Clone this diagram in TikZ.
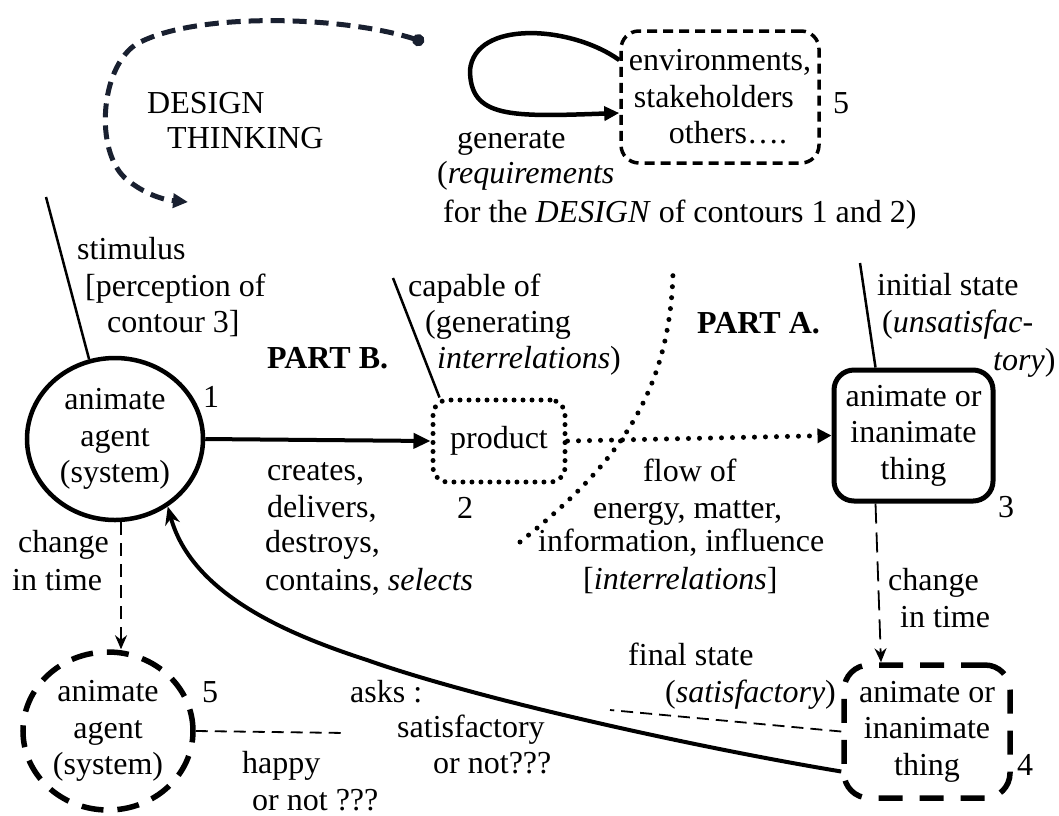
\documentclass[tikz,border=0pt]{standalone}
\usepackage{fontspec}
\setmainfont{Liberation Serif}
\usetikzlibrary{arrows.meta,shapes.geometric}
\definecolor{navy}{RGB}{25,32,48}
\begin{document}
\begin{tikzpicture}[x=1pt,y=-1pt,
  font=\fontsize{32pt}{36.5pt}\selectfont,
  lbl/.style={anchor=base west,inner sep=0pt},
  agent/.style={ellipse,draw,line width=4.5pt,minimum width=176pt,minimum height=162pt,inner sep=0pt,align=center},
  agentd/.style={ellipse,draw,line width=5.5pt,dash pattern=on 22pt off 14pt,minimum width=170pt,minimum height=158pt,inner sep=0pt,align=center},
  thing/.style={rectangle,rounded corners=20pt,draw,line width=5pt,minimum width=159pt,minimum height=131pt,inner sep=0pt,align=center},
  thingd/.style={rectangle,rounded corners=25pt,draw,line width=5.5pt,dash pattern=on 24pt off 17pt,minimum width=166pt,minimum height=133pt,inner sep=0pt,align=center},
  prodbox/.style={rectangle,rounded corners=15pt,draw,line width=5pt,dash pattern=on 0pt off 9pt,line cap=round,minimum width=132pt,minimum height=82pt,inner sep=0pt},
  envbox/.style={rectangle,rounded corners=18pt,draw,line width=3.5pt,dash pattern=on 10pt off 6pt,minimum width=198pt,minimum height=132pt,inner sep=0pt,align=left},
  thickarrow/.style={line width=4pt,-{Triangle[length=17pt,width=15pt]}},
  dotarrow/.style={line width=5pt,dash pattern=on 0pt off 11pt,line cap=round,-{Triangle[length=14pt,width=14pt]}},
  plainline/.style={line width=2.5pt},
  dasharrowL/.style={line width=2.8pt,dash pattern=on 13pt off 8pt,-{Stealth[length=14pt,width=12pt]}},
  dasharrowR/.style={line width=1.8pt,dash pattern=on 20pt off 9pt,-{Stealth[length=14pt,width=12pt]}},
  thindash/.style={line width=1.8pt,dash pattern=on 12pt off 7pt},
  curvearrow/.style={line width=4pt,-{Stealth[length=18pt,width=15pt]}},
  loopline/.style={line width=4.5pt,-{Triangle[length=15pt,width=14pt]}},
  partline/.style={line width=5pt,dash pattern=on 0pt off 11pt,line cap=round},
  designline/.style={navy,line width=5pt,dash pattern=on 14pt off 8pt,{Circle[length=12pt]}-{Triangle[length=15pt,width=14pt]}}
]
\useasboundingbox (0,0) rectangle (1059,815);

% shapes
\node[agent] (a1) at (115,439) {animate\\agent\\(system)};
\node[agentd] (a5) at (108,731) {animate\\agent\\(system)};
\node[prodbox] (prod) at (499,441) {product};
\node[thing] (b3) at (913.5,435.5) {animate or\\inanimate\\thing};
\node[thingd] (b4) at (927,731.5) {animate or\\inanimate\\thing};
\node[envbox] (env) at (720,97) {environments,\\\hspace*{5pt}stakeholders\\\hspace*{40pt}others….};

% free ends
\coordinate (stim) at (46,197);
\coordinate (cap) at (393,278);
\coordinate (ist) at (860,263);
\coordinate (fs) at (610,710);
\coordinate (ask) at (347,733);

% connectors
\draw[thickarrow] (a1.east) -- (prod.west);
\draw[dotarrow] (prod.east) -- (b3.west);
\draw[plainline] (stim) -- (a1.108);
\draw[plainline] (cap) -- ([xshift=9pt]prod.north west);
\draw[plainline] (ist) -- ([xshift=-38pt]b3.north);
\draw[dasharrowL] ([xshift=6pt]a1.south) -- ([xshift=6pt]a1.south |- a5.north);
\draw[dasharrowR] ([xshift=-38pt]b3.south) -- ([xshift=-46pt]b4.north);
\draw[thindash] (b4.west) -- (fs);
\draw[thindash] (a5.east) -- (ask);
\draw[curvearrow] ([yshift=-40pt]b4.west) .. controls (700,748) and (480,700) .. (367,660) .. controls (290,635) and (192,595) .. (a1.-52);
\draw[loopline] ([yshift=37pt]env.west) .. controls (570,25) and (475,20) .. (470,70) .. controls (470,118) and (510,117) .. ([yshift=-16pt]env.west);

% free drawings
\draw[partline] (520,542) .. controls (610,470) and (670,400) .. (673,272);
\draw[designline] (424,42) .. controls (340,15) and (190,12) .. (135,45) .. controls (100,70) and (95,150) .. (125,178) .. controls (145,195) and (165,200) .. (188,202);

% texts
\node[lbl] (tdesign) at (147,113) {DESIGN};
\node[lbl] (tthinking) at (167,148) {THINKING};
\node[lbl] (tgen) at (457,148) {generate};
\node[lbl] (treq) at (437,183) {(\textit{requirements}};
\node[lbl] (tfor) at (443,222) {for the \textit{DESIGN} of contours 1 and 2)};
\node[lbl] (tenvfive) at (833,113) {5};
\node[lbl] (tstima) at (77,259) {stimulus};
\node[lbl] (tstimb) at (85,296) {[perception of};
\node[lbl] (tstimc) at (107,332) {contour 3]};
\node[lbl] (tpartb) at (267,368) {\textbf{PART B.}};
\node[lbl] (tcapa) at (408,296) {capable of};
\node[lbl] (tcapb) at (425,332) {(generating};
\node[lbl] (tcapc) at (437,368) {\textit{interrelations})};
\node[lbl] (tparta) at (697,333) {\textbf{PART A.}};
\node[lbl] (tisa) at (877,295) {initial state};
\node[lbl] (tisb) at (882,332) {(\textit{unsatisfac-}};
\node[lbl] (tisc) at (993,370) {\textit{tory})};
\node[lbl] (tone) at (203,407) {1};
\node[lbl] (tcra) at (267,480) {creates,};
\node[lbl] (tcrb) at (267,517) {delivers,};
\node[lbl] (tcrc) at (265,552) {destroys,};
\node[lbl] (tcrd) at (265,590) {contains, \textit{selects}};
\node[lbl] (ttwo) at (457,518) {2};
\node[lbl] (tfla) at (643,481) {flow of};
\node[lbl] (tflb) at (593,518) {energy, matter,};
\node[lbl] (tflc) at (538,551) {information, influence};
\node[lbl] (tfld) at (583,589) {[\textit{interrelations}]};
\node[lbl] (tthree) at (998,517) {3};
\node[lbl] (tcha) at (18,552) {change};
\node[lbl] (tchb) at (12,590) {in time};
\node[lbl] (trcha) at (888,590) {change};
\node[lbl] (trchb) at (900,627) {in time};
\node[lbl] (tfsa) at (628,665) {final state};
\node[lbl] (tfsb) at (665,702) {(\textit{satisfactory})};
\node[lbl] (tfive) at (202,702) {5};
\node[lbl] (taska) at (350,702) {asks :};
\node[lbl] (taskb) at (397,737) {satisfactory};
\node[lbl] (taskc) at (433,773) {or not???};
\node[lbl] (thapa) at (242,773) {happy};
\node[lbl] (thapb) at (252,810) {or not ???};
\node[lbl] (tfour) at (1017,775) {4};
\end{tikzpicture}
\end{document}
